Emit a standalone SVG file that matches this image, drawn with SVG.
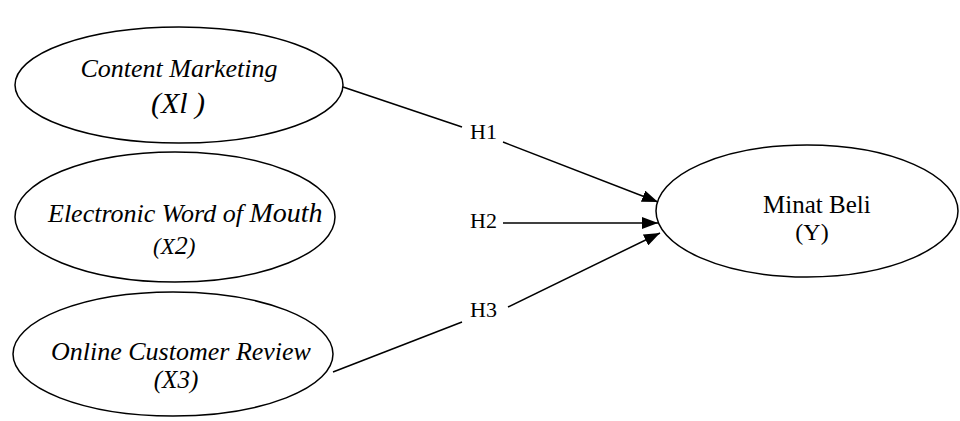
<svg xmlns="http://www.w3.org/2000/svg" width="960" height="421" viewBox="0 0 960 421">
<style>
.node ellipse{fill:#fff;stroke:#000;stroke-width:1.5}
.it{font-family:"Liberation Serif","Times New Roman",serif;font-style:italic;fill:#000}
.rm{font-family:"Liberation Serif","Times New Roman",serif;fill:#000}
.edge line{stroke:#000;stroke-width:1.5}
</style>
<defs>
<marker id="arrL" viewBox="0 0 16 12" refX="16" refY="6" markerWidth="16" markerHeight="12" markerUnits="userSpaceOnUse" orient="auto">
<path d="M0,0 L16,6 L0,12 Z" fill="#000"/>
</marker>
</defs>
<g id="x1" class="node">
<ellipse cx="179" cy="85" rx="164" ry="58"/>
<text class="it" x="179" y="77" font-size="26" text-anchor="middle">Content Marketing</text>
<text class="it" x="178" y="113" font-size="30" text-anchor="middle">(Xl )</text>
</g>
<g id="x2" class="node">
<ellipse cx="175" cy="217" rx="160" ry="65"/>
<text class="it" x="48" y="222" font-size="26">Electronic Word of <tspan font-size="28">Mouth</tspan></text>
<text class="it" x="153" y="254" font-size="23">(X<tspan font-size="26">2</tspan>)</text>
</g>
<g id="x3" class="node">
<ellipse cx="173" cy="354" rx="160" ry="62"/>
<text class="it" x="181" y="360" font-size="26" text-anchor="middle">Online Customer Review</text>
<text class="it" x="176" y="388" font-size="25" text-anchor="middle">(X3)</text>
</g>
<g id="y" class="node">
<ellipse cx="807" cy="211" rx="151" ry="66"/>
<text class="rm" x="763" y="213" font-size="25">Minat Beli</text>
<text class="rm" x="812" y="240" font-size="24" text-anchor="middle">(Y)</text>
</g>
<g id="edges" class="edge">
<line x1="343" y1="87" x2="462" y2="127"/>
<line x1="503" y1="142" x2="658" y2="202" marker-end="url(#arrL)"/>
<line x1="503" y1="223" x2="658" y2="223" marker-end="url(#arrL)"/>
<line x1="333" y1="372" x2="462" y2="322"/>
<line x1="508" y1="307" x2="660" y2="233" marker-end="url(#arrL)"/>
<text class="rm" x="470" y="139" font-size="22">H1</text>
<text class="rm" x="470" y="228" font-size="22">H2</text>
<text class="rm" x="470" y="317" font-size="22">H3</text>
</g>
</svg>
